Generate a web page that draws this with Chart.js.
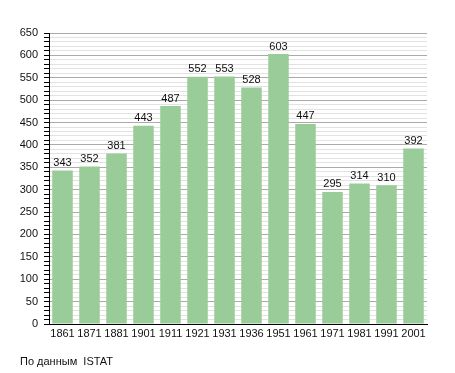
<!DOCTYPE html>
<html>
<head>
<meta charset="utf-8">
<script src="https://cdn.jsdelivr.net/npm/chart.js@4/dist/chart.umd.min.js"></script>
<style>
  html, body { margin: 0; padding: 0; background: #fff; }
  #wrap { position: relative; width: 455px; height: 373px; }
  #note { position: absolute; left: 20px; top: 355px; font: 11px "Liberation Sans", Arial, sans-serif; color: #111; white-space: pre; }
</style>
</head>
<body>
<div id="wrap">
  <canvas id="chart" width="455" height="373"></canvas>
  <div id="note">По данным  ISTAT</div>
</div>
<script>
const years = ["1861", "1871", "1881", "1901", "1911", "1921", "1931", "1936", "1951", "1961", "1971", "1981", "1991", "2001"];
const population = [343, 352, 381, 443, 487, 552, 553, 528, 603, 447, 295, 314, 310, 392];

const FONT = "'Liberation Sans', Arial, sans-serif";

// numbers above the bars
const barLabels = {
  id: "barLabels",
  afterDatasetsDraw(chart) {
    const ctx = chart.ctx;
    const meta = chart.getDatasetMeta(0);
    ctx.save();
    ctx.font = "11px " + FONT;
    ctx.fillStyle = "#111";
    ctx.textAlign = "center";
    ctx.textBaseline = "bottom";
    meta.data.forEach((bar, i) => {
      ctx.fillText(population[i], bar.x, bar.y - 2);
    });
    ctx.restore();
  }
};

const ctx = document.getElementById("chart").getContext("2d");
new Chart(ctx, {
  type: "bar",
  data: {
    labels: years,
    datasets: [{
      data: population,
      backgroundColor: "#99cc99",
      borderWidth: 0,
      barPercentage: 0.76,
      categoryPercentage: 1
    }]
  },
  options: {
    responsive: false,
    animation: false,
    layout: { padding: { left: 0, right: 28, top: 33, bottom: 29 } },
    plugins: { legend: { display: false }, tooltip: { enabled: false } },
    scales: {
      x: {
        grid: { display: false, drawTicks: false },
        border: { color: "#000", width: 1 },
        ticks: { color: "#111", font: { family: FONT, size: 11 }, padding: 3, maxRotation: 0, autoSkip: false },
        afterFit(scale) { scale.height = 20; }
      },
      y: {
        min: 0,
        max: 650,
        border: { color: "#000", width: 1 },
        grid: {
          color: c => (c.tick.value % 50 === 0 ? "#aaaaaa" : "#e2e2e2"),
          tickColor: "#000",
          tickLength: 5
        },
        ticks: {
          stepSize: 10,
          autoSkip: false,
          color: "#111",
          padding: 6,
          font: { family: FONT, size: 11 },
          callback: v => (v % 50 === 0 ? v : "")
        },
        afterFit(scale) { scale.width = 49; }
      }
    }
  },
  plugins: [barLabels]
});
</script>
</body>
</html>
